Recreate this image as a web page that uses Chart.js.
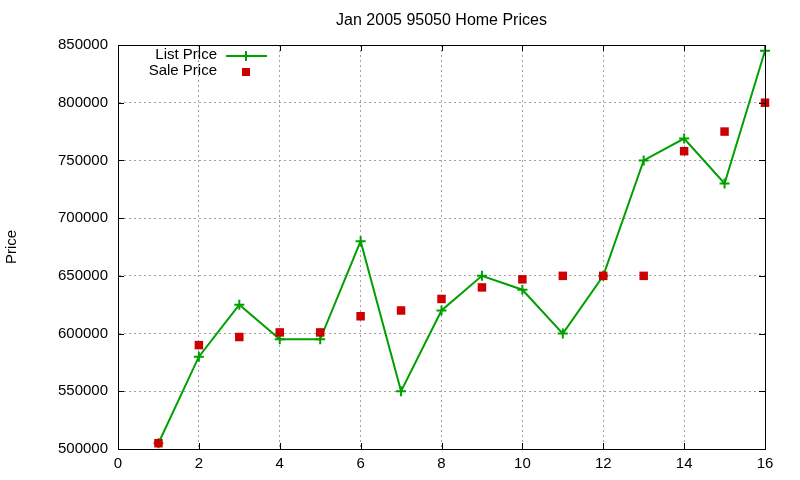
<!DOCTYPE html>
<html>
<head>
<meta charset="utf-8">
<script src="https://cdn.jsdelivr.net/npm/chart.js@4/dist/chart.umd.min.js"></script>
<style>
  html, body { margin: 0; padding: 0; background: #fff; }
  #wrap { width: 800px; height: 480px; }
</style>
</head>
<body>
<div id="wrap"><canvas id="priceChart" width="800" height="480"></canvas></div>
<script>
// Jan 2005 95050 home prices
const chartTitle = 'Jan 2005 95050 Home Prices';
const homeIndex = [1, 2, 3, 4, 5, 6, 7, 8, 9, 10, 11, 12, 13, 14, 15, 16];
const listPrice = [505000, 580000, 625000, 595000, 595000, 680000, 550000, 620000, 650000, 638000, 600000, 650000, 750000, 769000, 730000, 845000];
const salePrice = [505000, 590000, 597000, 601000, 601000, 615000, 620000, 630000, 640000, 647000, 650000, 650000, 650000, 758000, 775000, 800000];
const xTicks = [0, 2, 4, 6, 8, 10, 12, 14, 16];
const yTicks = [500000, 550000, 600000, 650000, 700000, 750000, 800000, 850000];

const FONT = '"Liberation Sans", Arial, sans-serif';
const GREEN = '#00a000';
const RED = '#cc0000';

// gnuplot-like frame: box, inward ticks, title and key inside the plot
const framePlugin = {
  id: 'frame',
  afterDraw(chart){
    const ctx = chart.ctx, a = chart.chartArea;
    const xs = chart.scales.x, ys = chart.scales.y;
    ctx.save();
    ctx.strokeStyle = '#000';
    ctx.lineWidth = 1;
    ctx.strokeRect(a.left + 0.5, a.top + 0.5, a.right - a.left, a.bottom - a.top);
    ctx.beginPath();
    xTicks.forEach(v => {
      const px = Math.round(xs.getPixelForValue(v)) + 0.5;
      ctx.moveTo(px, a.bottom); ctx.lineTo(px, a.bottom - 6);
      ctx.moveTo(px, a.top); ctx.lineTo(px, a.top + 6);
    });
    yTicks.forEach(v => {
      const py = Math.round(ys.getPixelForValue(v)) + 0.5;
      ctx.moveTo(a.left, py); ctx.lineTo(a.left + 6, py);
      ctx.moveTo(a.right, py); ctx.lineTo(a.right - 6, py);
    });
    ctx.stroke();

    // title
    ctx.fillStyle = '#000';
    ctx.font = '16px ' + FONT;
    ctx.textAlign = 'center';
    ctx.textBaseline = 'middle';
    ctx.fillText(chartTitle, (a.left + a.right) / 2, 21);

    // key
    ctx.font = '15px ' + FONT;
    ctx.textAlign = 'right';
    const ds = chart.data.datasets;
    ctx.fillText(ds[0].label, 217, 55);
    ctx.fillText(ds[1].label, 217, 71);
    ctx.strokeStyle = GREEN;
    ctx.lineWidth = 2;
    ctx.beginPath();
    ctx.moveTo(226, 56); ctx.lineTo(267, 56);
    ctx.moveTo(246, 51); ctx.lineTo(246, 61);
    ctx.stroke();
    ctx.fillStyle = RED;
    ctx.fillRect(242, 68, 8, 8);
    ctx.restore();
  }
};

new Chart(document.getElementById('priceChart'), {
  type: 'scatter',
  data: {
    datasets: [
      {
        label: 'List Price',
        data: homeIndex.map((x, i) => ({ x, y: listPrice[i] })),
        order: 1,
        clip: false,
        showLine: true,
        borderColor: GREEN,
        backgroundColor: GREEN,
        borderWidth: 2,
        pointStyle: 'cross',
        pointRadius: 5,
        pointBorderWidth: 2,
        tension: 0
      },
      {
        label: 'Sale Price',
        data: homeIndex.map((x, i) => ({ x, y: salePrice[i] })),
        order: 0,
        clip: false,
        showLine: false,
        borderColor: RED,
        backgroundColor: RED,
        pointStyle: 'rect',
        pointRadius: 6,
        pointBorderWidth: 0
      }
    ]
  },
  options: {
    responsive: false,
    animation: false,
    layout: { padding: { left: 0, right: 35, top: 45, bottom: 0 } },
    plugins: {
      legend: { display: false },
      title: { display: false },
      tooltip: { enabled: false }
    },
    scales: {
      x: {
        type: 'linear',
        min: 0, max: 16,
        afterFit(s){ s.height = 31; },
        afterBuildTicks(s){ s.ticks = xTicks.map(v => ({ value: v })); },
        ticks: { color: '#000', font: { family: FONT, size: 15 }, padding: 6, maxRotation: 0 },
        grid: { color: '#a0a0a0', drawTicks: false, lineWidth: 1 },
        border: { display: true, color: '#000', dash: [2, 3] }
      },
      y: {
        min: 500000, max: 850000,
        afterFit(s){ s.width = 118; },
        afterBuildTicks(s){ s.ticks = yTicks.map(v => ({ value: v })); },
        ticks: { color: '#000', font: { family: FONT, size: 15 }, padding: 10, callback: v => String(v) },
        grid: { color: '#a0a0a0', drawTicks: false, lineWidth: 1 },
        border: { display: true, color: '#000', dash: [2, 3] },
        title: { display: true, text: 'Price', color: '#000', font: { family: FONT, size: 15 }, padding: { top: 3, bottom: 0 } }
      }
    }
  },
  plugins: [framePlugin]
});
</script>
</body>
</html>
